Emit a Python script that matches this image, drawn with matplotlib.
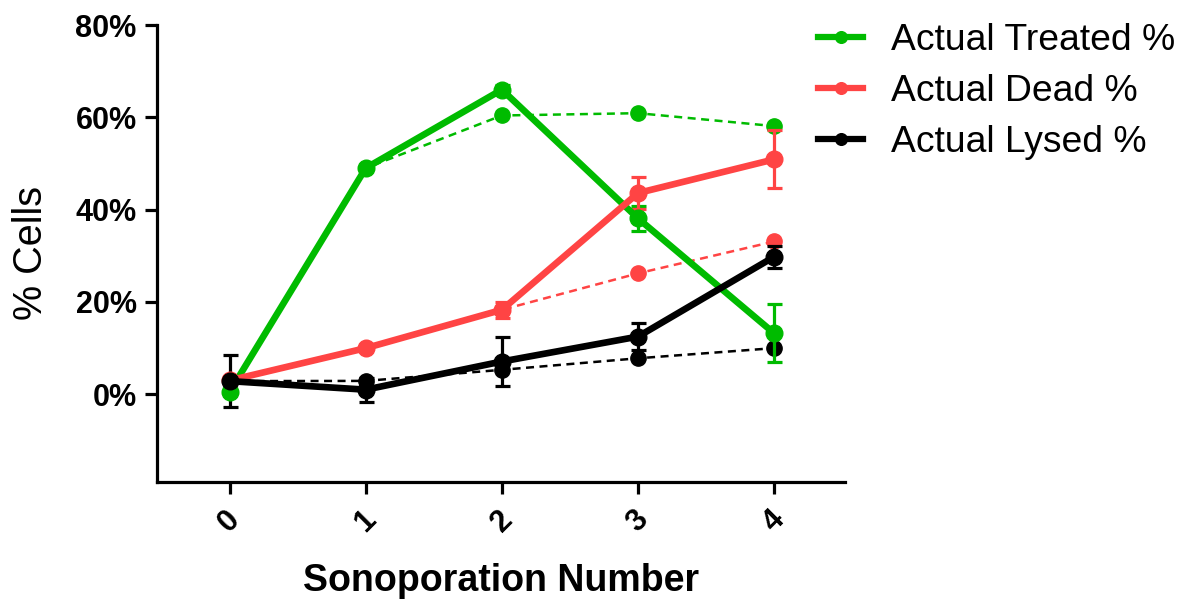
import matplotlib.pyplot as plt
import numpy as np

plt.rcParams['font.family'] = ['Liberation Sans', 'DejaVu Sans']

# sonoporation rounds
rounds = [0, 1, 2, 3, 4]

# measured percentages (mean, error)
treated = [0.5, 49.0, 66.0, 38.1, 13.2]
treated_err = [0.0, 0.0, 1.0, 2.7, 6.3]
dead = [3.0, 10.0, 18.3, 43.6, 50.9]
dead_err = [0.0, 0.0, 1.8, 3.4, 6.3]
lysed = [2.85, 1.0, 7.1, 12.5, 29.8]
lysed_err = [5.65, 2.6, 5.4, 2.9, 2.4]

# expected percentages (dashed)
treated_pred = [0.5, 49.0, 60.4, 60.9, 58.1]
dead_pred = [3.0, 10.0, 18.3, 26.2, 33.1]
lysed_pred = [2.85, 2.9, 5.3, 7.8, 10.0]

labels = ['Actual Treated %', 'Actual Dead %', 'Actual Lysed %']
colors = ['#00BB00', '#FF4444', '#000000']

fig = plt.figure(figsize=(11.84, 6.0), dpi=100)
ax = fig.add_axes([0.1326, 0.1967, 0.7137 - 0.1326, 0.9583 - 0.1967])

series = [(treated, treated_err, treated_pred),
          (dead, dead_err, dead_pred),
          (lysed, lysed_err, lysed_pred)]

# dashed expected lines first, underneath
for (_, _, pred), c in zip(series, colors):
    ax.plot(rounds, pred, color=c, lw=1.8, ls=(0, (3.2, 2.2)),
            marker='o', ms=11, zorder=2)

handles = []
for (vals, err, _), c, lab in zip(series, colors, labels):
    ax.errorbar(rounds, vals, yerr=err, fmt='none', ecolor=c,
                elinewidth=2.3, capsize=5.4, capthick=2.3, zorder=3)
    h, = ax.plot(rounds, vals, color=c, lw=4.8, marker='o', ms=12,
                 zorder=4, label=lab)
    handles.append(h)

ax.set_xlim(-0.533, 4.52)
ax.set_ylim(-19, 80)
ax.set_xticks(rounds)
ax.set_yticks([0, 20, 40, 60, 80])
ax.set_yticklabels(['%d%%' % v for v in [0, 20, 40, 60, 80]],
                   fontsize=22, fontweight='bold')
ax.set_xticklabels([str(r) for r in rounds], fontsize=22, fontweight='bold',
                   rotation=45, ha='center', va='top')

for side in ['top', 'right']:
    ax.spines[side].set_visible(False)
for side in ['left', 'bottom']:
    ax.spines[side].set_linewidth(2.3)
ax.tick_params(width=2.3, length=8.6, direction='out', pad=6)
ax.tick_params(axis='x', pad=8)

ax.set_xlabel('Sonoporation Number', fontsize=27, fontweight='bold', labelpad=18)
ax.set_ylabel('% Cells', fontsize=28.5, labelpad=18)

leg = fig.legend(handles=handles, loc='upper left', bbox_to_anchor=(0.663, 1.017),
                 frameon=False, fontsize=26.8, handlelength=1.2, handletextpad=0.74,
                 labelspacing=0.42, markerscale=0.7)
for line in leg.get_lines():
    line.set_linewidth(4.5)

fig.savefig('out.png', dpi=100)
